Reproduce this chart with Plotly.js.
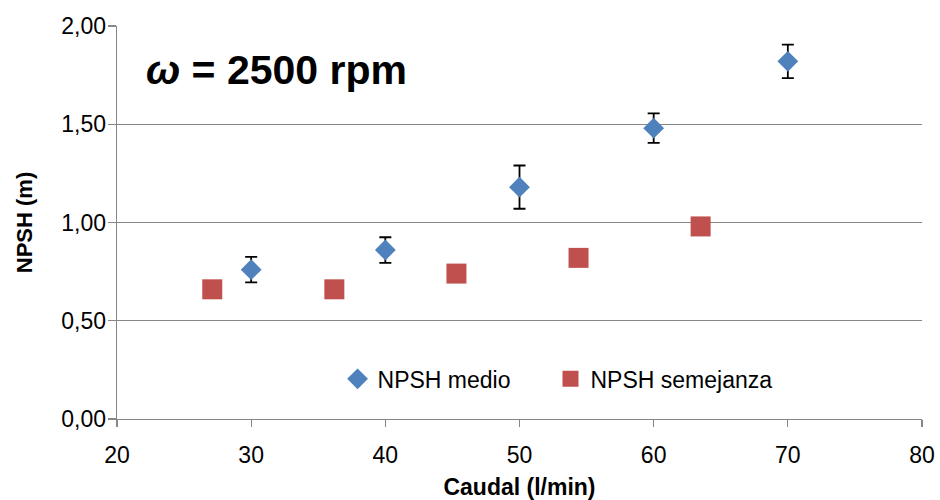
<!DOCTYPE html>
<html>
<head>
<meta charset="utf-8">
<script src="https://cdn.plot.ly/plotly-3.0.1.min.js"></script>
<style>
  html, body { margin: 0; padding: 0; background: #fff; }
  #chart { width: 940px; height: 500px; }
</style>
</head>
<body>
<div id="chart"></div>
<script>
// Measured NPSH (mean with spread) and NPSH predicted by similarity laws
const caudalMedio = [30, 40, 50, 60, 70];
const npshMedio = [0.76, 0.86, 1.18, 1.48, 1.82];
const npshMedioErr = [0.065, 0.065, 0.11, 0.075, 0.085];

const caudalSemejanza = [27.1, 36.2, 45.3, 54.4, 63.5];
const npshSemejanza = [0.66, 0.66, 0.74, 0.82, 0.98];

const xTicks = [20, 30, 40, 50, 60, 70, 80];
const yTicks = [0, 0.5, 1.0, 1.5, 2.0];
const yTickText = ['0,00', '0,50', '1,00', '1,50', '2,00'];

const baseFont = 'Liberation Sans, Arial, sans-serif';

const traces = [
  {
    x: caudalMedio, y: npshMedio,
    type: 'scatter', mode: 'markers', name: 'NPSH medio', legend: 'legend',
    marker: { symbol: 'diamond', size: 16, color: '#4F81BD' },
    error_y: { type: 'data', array: npshMedioErr, visible: true,
               color: '#000000', thickness: 1.8, width: 6 }
  },
  {
    x: caudalSemejanza, y: npshSemejanza,
    type: 'scatter', mode: 'markers', name: 'NPSH semejanza', legend: 'legend2',
    marker: { symbol: 'square', size: 20, color: '#C0504D' }
  }
];

// one legend box per series so the two entries can sit apart
const legendStyle = (x) => ({
  orientation: 'h', x: x, y: 0.102, xanchor: 'left', yanchor: 'middle',
  font: { family: baseFont, size: 23, color: '#000000' },
  bgcolor: 'rgba(0,0,0,0)', itemwidth: 30
});

const layout = {
  width: 940, height: 500,
  margin: { l: 117, r: 18, t: 26, b: 81 },
  paper_bgcolor: '#ffffff', plot_bgcolor: '#ffffff',
  font: { family: baseFont, size: 23, color: '#000000' },
  showlegend: true,
  legend: legendStyle(0.274),
  legend2: legendStyle(0.5385),
  xaxis: {
    range: [20, 80], tickvals: xTicks, ticktext: xTicks.map(String),
    showgrid: false, zeroline: false,
    showline: true, linecolor: '#868686', linewidth: 1.3,
    ticks: 'outside', ticklen: 7, tickcolor: '#868686', tickwidth: 1.3,
    tickfont: { family: baseFont, size: 23 }, ticklabelstandoff: 8,
    title: { text: '<b>Caudal (l/min)</b>', font: { family: baseFont, size: 23 }, standoff: 14 }
  },
  yaxis: {
    range: [0, 2], tickvals: yTicks, ticktext: yTickText,
    showgrid: true, gridcolor: '#868686', gridwidth: 1.3, zeroline: false,
    showline: true, linecolor: '#868686', linewidth: 1.3,
    ticks: 'outside', ticklen: 8, tickcolor: '#868686', tickwidth: 1.3,
    tickfont: { family: baseFont, size: 23 }, ticklabelstandoff: -3,
    title: { text: '<b>NPSH (m)</b>', font: { family: baseFont, size: 22 }, standoff: 22 }
  },
  annotations: [
    {
      xref: 'paper', yref: 'paper', x: 0.034, y: 0.888, xanchor: 'left', yanchor: 'middle',
      text: '<b><i>ω</i> = 2500 rpm</b>', showarrow: false,
      font: { family: baseFont, size: 41, color: '#000000' }
    }
  ]
};

Plotly.newPlot('chart', traces, layout, { displayModeBar: false, staticPlot: true });
</script>
</body>
</html>
